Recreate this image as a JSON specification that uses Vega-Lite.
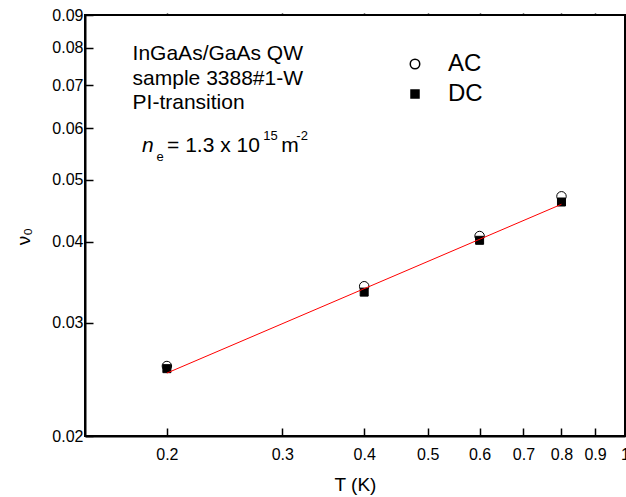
{
  "$schema": "https://vega.github.io/schema/vega-lite/v6.json",
  "width": 540,
  "height": 421,
  "autosize": "none",
  "padding": {"left": 85, "top": 15, "right": 1, "bottom": 61},
  "background": "white",
  "config": {
    "font": "Liberation Sans",
    "view": {"stroke": "black", "strokeWidth": 2},
    "axis": {
      "grid": false,
      "domainColor": "black",
      "domainWidth": 2,
      "tickColor": "black",
      "tickWidth": 1.5,
      "labelColor": "black",
      "titleColor": "black",
      "labelFont": "Liberation Sans",
      "titleFont": "Liberation Sans",
      "titleFontWeight": "normal"
    }
  },
  "datasets": {
    "points": [
      {"T": 0.2, "v": 0.02568, "series": "AC"},
      {"T": 0.4, "v": 0.03415, "series": "AC"},
      {"T": 0.6, "v": 0.04086, "series": "AC"},
      {"T": 0.8, "v": 0.04709, "series": "AC"},
      {"T": 0.2, "v": 0.02544, "series": "DC"},
      {"T": 0.4, "v": 0.03344, "series": "DC"},
      {"T": 0.6, "v": 0.04024, "series": "DC"},
      {"T": 0.8, "v": 0.04614, "series": "DC"}
    ],
    "fit": [
      {"T": 0.2, "v": 0.02504},
      {"T": 0.8, "v": 0.04577}
    ],
    "notes": [
      {"T": 0.1773, "v": 0.07663, "text": "InGaAs/GaAs QW"},
      {"T": 0.1773, "v": 0.0702, "text": "sample 3388#1-W"},
      {"T": 0.1773, "v": 0.06432, "text": "PI-transition"},
      {"T": 0.2001, "v": 0.05518, "text": "= 1.3 x 10"},
      {"T": 0.2988, "v": 0.05518, "text": "m"}
    ],
    "italic": [
      {"T": 0.1833, "v": 0.05518, "text": "n"}
    ],
    "small": [
      {"T": 0.1929, "v": 0.05342, "text": "e"},
      {"T": 0.2805, "v": 0.05758, "text": "15"},
      {"T": 0.3152, "v": 0.05758, "text": "-2"}
    ]
  },
  "resolve": {"axis": {"x": "independent", "y": "independent"}},
  "layer": [
    {
      "data": {"name": "points"},
      "mark": {"type": "point", "filled": true, "stroke": "black", "strokeWidth": 1, "opacity": 1},
      "encoding": {
        "x": {
          "field": "T", "type": "quantitative",
          "scale": {"type": "log", "domain": [0.15, 1], "nice": false},
          "axis": {
            "values": [0.2, 0.3, 0.4, 0.5, 0.6, 0.7, 0.8, 0.9, 1],
            "format": "~g",
            "labelFontSize": 16,
            "tickSize": -8,
            "labelPadding": 18,
            "labelFlush": false,
            "labelOverlap": false,
            "title": "T (K)",
            "titleFontSize": 19,
            "titlePadding": 13
          }
        },
        "y": {
          "field": "v", "type": "quantitative",
          "scale": {"type": "log", "domain": [0.02, 0.09], "nice": false},
          "axis": {
            "values": [0.02, 0.03, 0.04, 0.05, 0.06, 0.07, 0.08, 0.09],
            "format": ".2f",
            "labelFontSize": 16,
            "tickSize": -8,
            "labelPadding": 10,
            "labelFlush": false,
            "labelOverlap": false,
            "title": "ν₀",
            "titleFontSize": 19,
            "titlePadding": 18,
            "titleY": 221
          }
        },
        "shape": {
          "field": "series", "type": "nominal",
          "scale": {"domain": ["AC", "DC"], "range": ["circle", "square"]},
          "legend": {
            "orient": "none", "legendX": 318, "legendY": 37, "title": null,
            "labelFontSize": 24, "labelOffset": 21, "rowPadding": 6, "padding": 0,
            "labelColor": "black",
            "encode": {"symbols": {"update": {"stroke": {"value": "black"}, "strokeWidth": {"value": 1}}}}
          }
        },
        "fill": {
          "field": "series", "type": "nominal",
          "scale": {"domain": ["AC", "DC"], "range": ["white", "black"]},
          "legend": {
            "orient": "none", "legendX": 318, "legendY": 37, "title": null,
            "labelFontSize": 24, "labelOffset": 21, "rowPadding": 6, "padding": 0,
            "labelColor": "black",
            "encode": {"symbols": {"update": {"stroke": {"value": "black"}, "strokeWidth": {"value": 1}}}}
          }
        },
        "size": {
          "field": "series", "type": "nominal",
          "scale": {"domain": ["AC", "DC"], "range": [90, 64]},
          "legend": {
            "orient": "none", "legendX": 318, "legendY": 37, "title": null,
            "labelFontSize": 24, "labelOffset": 21, "rowPadding": 6, "padding": 0,
            "labelColor": "black",
            "encode": {"symbols": {"update": {"stroke": {"value": "black"}, "strokeWidth": {"value": 1}}}}
          }
        }
      }
    },
    {
      "data": {"name": "fit"},
      "mark": {"type": "line", "color": "red", "strokeWidth": 1},
      "encoding": {
        "x": {
          "field": "T", "type": "quantitative",
          "axis": {
            "orient": "top",
            "values": [0.2, 0.3, 0.4, 0.5, 0.6, 0.7, 0.8, 0.9],
            "labels": false, "tickSize": 2, "domain": false, "title": null
          }
        },
        "y": {"field": "v", "type": "quantitative", "axis": null}
      }
    },
    {
      "data": {"name": "notes"},
      "mark": {"type": "text", "align": "left", "baseline": "alphabetic", "fontSize": 21, "color": "black"},
      "encoding": {
        "x": {"field": "T", "type": "quantitative", "axis": null},
        "y": {"field": "v", "type": "quantitative", "axis": null},
        "text": {"field": "text"}
      }
    },
    {
      "data": {"name": "italic"},
      "mark": {"type": "text", "align": "left", "baseline": "alphabetic", "fontSize": 21, "fontStyle": "italic", "color": "black"},
      "encoding": {
        "x": {"field": "T", "type": "quantitative", "axis": null},
        "y": {"field": "v", "type": "quantitative", "axis": null},
        "text": {"field": "text"}
      }
    },
    {
      "data": {"name": "small"},
      "mark": {"type": "text", "align": "left", "baseline": "alphabetic", "fontSize": 13, "color": "black"},
      "encoding": {
        "x": {"field": "T", "type": "quantitative", "axis": null},
        "y": {"field": "v", "type": "quantitative", "axis": null},
        "text": {"field": "text"}
      }
    }
  ]
}
